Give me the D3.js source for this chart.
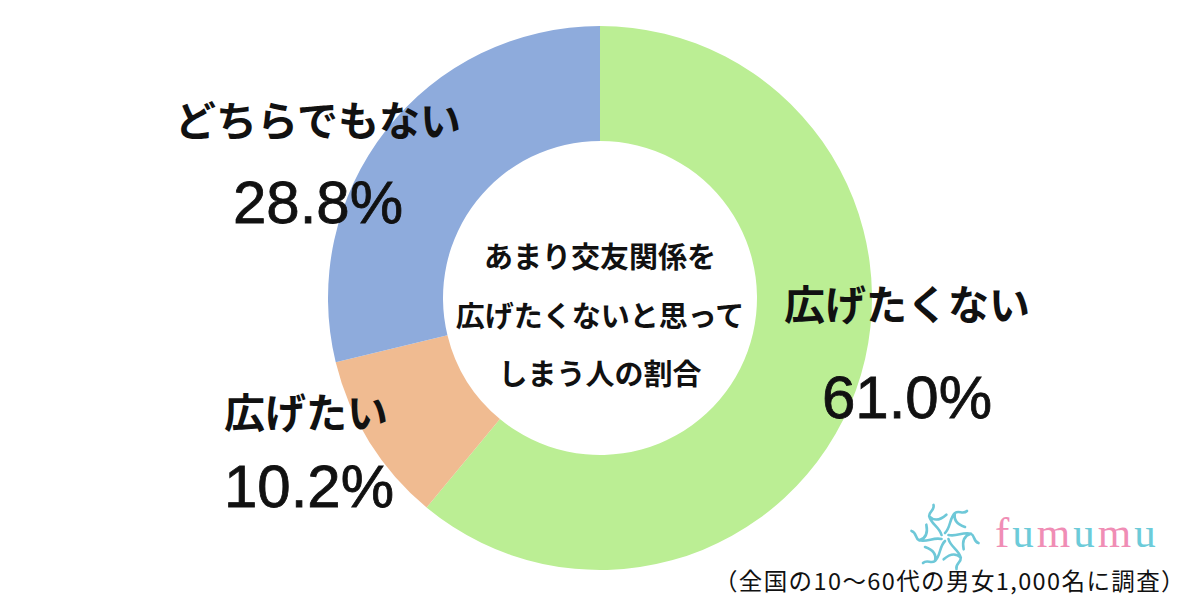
<!DOCTYPE html>
<html><head><meta charset="utf-8">
<script src="https://cdn.jsdelivr.net/npm/d3@7"></script>
<style>html,body{margin:0;padding:0;background:#fff;}svg{display:block;}</style>
</head><body>
<svg id="c" width="1200" height="600"></svg>
<script>
const categories = ["広げたくない", "広げたい", "どちらでもない"];
const values = [61.0, 10.2, 28.8];
const valueLabels = ["61.0%", "10.2%", "28.8%"];
const colors = ["#bbee94", "#f0bb91", "#8eabdc"];
const centerTitle = ["あまり交友関係を", "広げたくないと思って", "しまう人の割合"];
const footnote = "（全国の10〜60代の男女1,000名に調査）";

const svg = d3.select("#c");
const cx = 600, cy = 298, R = 272, r = 157;
const font = "'Noto Sans CJK JP','Noto Sans',sans-serif";
const numFont = "'Liberation Sans',Arial,sans-serif";

const pie = d3.pie().sort(null).value(d => d)(values);
const arc = d3.arc().innerRadius(r).outerRadius(R);
const g = svg.append("g").attr("transform", `translate(${cx},${cy})`);
g.selectAll("path").data(pie).join("path")
  .attr("d", arc).attr("fill", (d, i) => colors[i]);

// center text
centerTitle.forEach((t, i) => {
  svg.append("text").attr("x", cx).attr("y", 255 + i * 58.5)
    .attr("text-anchor", "middle").attr("dominant-baseline", "central")
    .attr("font-family", font).attr("font-weight", 700).attr("font-size", 29)
    .attr("fill", "#111").text(t);
});

// labels
const labelPos = [
  {x: 907, ny: 302, vx: 907, vy: 418},
  {x: 306, ny: 410, vx: 309, vy: 507},
  {x: 318, ny: 118, vx: 318, vy: 223}
];
categories.forEach((c, i) => {
  const p = labelPos[i];
  svg.append("text").attr("x", p.x).attr("y", p.ny)
    .attr("text-anchor", "middle").attr("dominant-baseline", "central")
    .attr("font-family", font).attr("font-weight", 700).attr("font-size", 41)
    .attr("fill", "#111").text(c);
  svg.append("text").attr("x", p.vx).attr("y", p.vy)
    .attr("text-anchor", "middle")
    .attr("font-family", numFont).attr("font-weight", 400).attr("font-size", 60)
    .attr("stroke", "#111").attr("stroke-width", 0.8)
    .attr("fill", "#111").text(valueLabels[i]);
});

// footnote
svg.append("text").attr("x", 1186).attr("y", 580)
  .attr("text-anchor", "end").attr("dominant-baseline", "central")
  .attr("font-family", font).attr("font-weight", 400).attr("font-size", 23.5)
  .attr("letter-spacing", 1.4)
  .attr("fill", "#111").text(footnote);

// logo
const logo = svg.append("g").attr("transform", "translate(945,537)");
for (let k = 0; k < 6; k++) {
  logo.append("path")
    .attr("transform", `rotate(${k * 60})`)
    .attr("d", "M0,-4 C6,-10 4,-18 10,-24 C14,-27 18,-22 22,-26 M10,-24 C8,-16 14,-12 20,-10")
    .attr("fill", "none").attr("stroke", "#6ec8d8").attr("stroke-width", 2.6)
    .attr("stroke-linecap", "round");
}
const word = "fumumu".split("");
const wcol = ["#f08db5", "#6ccbd9", "#f08db5", "#6ccbd9", "#f08db5", "#6ccbd9"];
const t = svg.append("text").attr("x", 995).attr("y", 547)
  .attr("font-family", "'Liberation Serif','DejaVu Serif',serif").attr("font-size", 43)
  .attr("letter-spacing", 3);
word.forEach((ch, i) => t.append("tspan").attr("fill", wcol[i]).text(ch));
</script>
</body></html>
